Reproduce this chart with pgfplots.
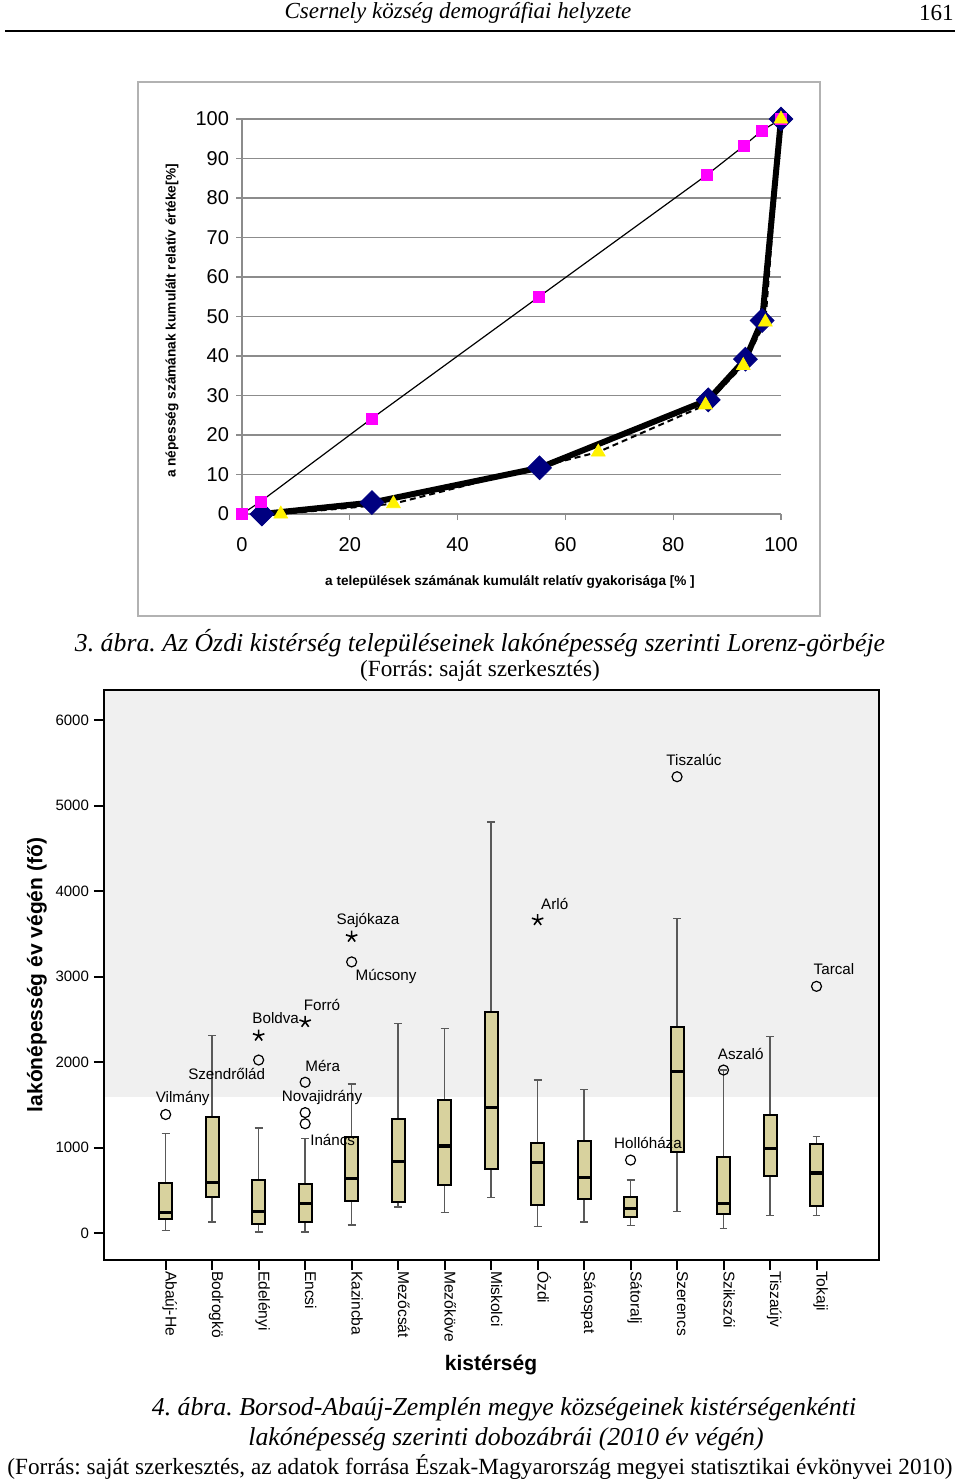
\documentclass[border=0pt]{standalone}
\usepackage{fontspec}
\setmainfont{Liberation Serif}
\newfontfamily\arial{Liberation Sans}
\usepackage{pgfplots}
\pgfplotsset{compat=1.18}
\usepgfplotslibrary{statistics}
\definecolor{boxfill}{HTML}{D8D29E}
\definecolor{bandgray}{HTML}{F0F0F0}
\definecolor{lorgrid}{HTML}{8C8C8C}
\definecolor{navy}{HTML}{000080}
\definecolor{pink}{HTML}{FF00FF}
\pgfplotsset{
  boxplot/every box/.style={fill=boxfill, draw=black, line width=1pt},
  boxplot/every median/.style={black, line width=1.6pt},
  boxplot/every whisker/.style={black!65, line width=0.7pt},
}
\frenchspacing
\begin{document}
\begin{tikzpicture}[x=1pt,y=1pt]
\path[use as bounding box] (0,0) rectangle (480,-740);
% ---- page header
\node[inner sep=0pt, font=\itshape\fontsize{11.5}{13}\selectfont] at (229,-6.5) {Csernely község demográfiai helyzete};
\node[inner sep=0pt, anchor=east, font=\fontsize{11.5}{13}\selectfont] at (477,-6.5) {161};
\draw[line width=1pt] (2.5,-15.5) -- (477.5,-15.5);
% ---- chart 1 frame
\draw[gray!60, line width=0.6pt] (69,-41) rectangle (410,-308);
\begin{axis}[at={(121pt,-257pt)}, anchor=south west, scale only axis,
  width=269.5pt, height=197.5pt,
  xmin=0, xmax=100, ymin=0, ymax=100, clip=false,
  axis x line*=bottom, axis y line*=left,
  axis line style={lorgrid, line width=0.6pt, -},
  xtick={0,20,...,100}, ytick={0,10,...,100},
  ymajorgrids, grid style={lorgrid, line width=0.6pt},
  tick style={lorgrid, line width=0.6pt}, tick align=outside, major tick length=3pt,
  /pgf/number format/assume math mode=true,
  xticklabel style={font=\arial\fontsize{10}{12}\selectfont, yshift=-5pt},
  yticklabel style={font=\arial\fontsize{10}{12}\selectfont},
]
\addplot[black, densely dashed, line width=1pt, mark=none] coordinates {
 (7.2,0) (28.1,2.6) (66.1,15.7) (86.0,27.6) (93.0,37.6) (97.1,48.6) (100,100)};
\addplot[black, line width=3pt, mark=square*, mark size=4.2pt,
  mark options={rotate=45, fill=navy, draw=navy, line width=0.4pt, solid}] coordinates {
 (3.7,0) (24.1,2.9) (55.2,11.7) (86.5,28.9) (93.4,39.2) (96.5,49.0) (100,100)};
\addplot[black, line width=0.6pt, mark=square*, mark size=2.75pt,
  mark options={fill=pink, draw=pink, line width=0.3pt}] coordinates {
 (0,0) (3.5,3.2) (24.0,24.1) (55.0,54.9) (86.2,85.8) (93.1,93.2) (96.4,97.0) (100,100)};
\addplot[only marks, mark=triangle*, mark size=4pt,
  mark options={fill=yellow, draw=yellow, line width=0.3pt}] coordinates {
 (7.2,0) (28.1,2.6) (66.1,15.7) (86.0,27.6) (93.0,37.6) (97.1,48.6) (100,100)};
\end{axis}
\node[rotate=90, inner sep=0pt, font=\arial\bfseries\fontsize{6.85}{8}\selectfont] at (86,-160.5) {a népesség számának kumulált relatív értéke[\%]};
\node[inner sep=0pt, font=\arial\bfseries\fontsize{6.8}{8}\selectfont] at (255,-291) {a települések számának kumulált relatív gyakorisága [\% ]};
% ---- caption 3
\node[inner sep=0pt, font=\itshape\fontsize{12.9}{15}\selectfont] at (240,-321.5) {3. ábra. Az Ózdi kistérség településeinek lakónépesség szerinti Lorenz-görbéje};
\node[inner sep=0pt, font=\fontsize{11.6}{14}\selectfont] at (240,-335.5) {(Forrás: saját szerkesztés)};
% ---- chart 2
\begin{axis}[at={(52pt,-630pt)}, anchor=south west, scale only axis,
  width=387.5pt, height=285pt,
  xmin=-0.327, xmax=16.344, ymin=-316, ymax=6351,
  axis on top,
  axis line style={line width=1pt},
  xtick={1,...,15}, ytick={0,1000,...,6000},
  xticklabels={Abaúj-He,Bodrogkö,Edelényi,Encsi,Kazincba,Mezőcsát,Mezőköve,Miskolci,Ózdi,Sárospat,Sátoralj,Szerencs,Szikszói,Tiszaújv,Tokaji},
  xtick pos=bottom, ytick pos=left,
  tick align=outside, major tick length=5pt,
  tick style={black, line width=1pt},
  scaled y ticks=false,
  /pgf/number format/1000 sep={},
  /pgf/number format/assume math mode=true,
  yticklabel style={font=\arial\fontsize{7.5}{9}\selectfont, xshift=1pt},
  xticklabel style={yshift=3.5pt, rotate=-90, anchor=base west, font=\arial\fontsize{7.8}{9}\selectfont, xshift=0.5pt},
  boxplot/draw direction=y,
  boxplot/box extend=0.28,
  boxplot/whisker extend=0.17,
]
\fill[bandgray] (axis cs:-0.327,1590) rectangle (axis cs:16.344,6351);
\addplot[black, boxplot prepared={lower whisker=30, lower quartile=165, median=238, upper quartile=585, upper whisker=1161, draw position=1}] coordinates {};
\addplot[black, boxplot prepared={lower whisker=130, lower quartile=420, median=594, upper quartile=1352, upper whisker=2309, draw position=2}] coordinates {};
\addplot[black, boxplot prepared={lower whisker=13, lower quartile=100, median=247, upper quartile=615, upper whisker=1226, draw position=3}] coordinates {};
\addplot[black, boxplot prepared={lower whisker=13, lower quartile=130, median=342, upper quartile=576, upper whisker=1105, draw position=4}] coordinates {};
\addplot[black, boxplot prepared={lower whisker=95, lower quartile=377, median=637, upper quartile=1118, upper whisker=1741, draw position=5}] coordinates {};
\addplot[black, boxplot prepared={lower whisker=303, lower quartile=364, median=840, upper quartile=1334, upper whisker=2448, draw position=6}] coordinates {};
\addplot[black, boxplot prepared={lower whisker=238, lower quartile=559, median=1018, upper quartile=1560, upper whisker=2391, draw position=7}] coordinates {};
\addplot[black, boxplot prepared={lower whisker=412, lower quartile=749, median=1464, upper quartile=2582, upper whisker=4809, draw position=8}] coordinates {};
\addplot[black, boxplot prepared={lower whisker=74, lower quartile=325, median=823, upper quartile=1053, upper whisker=1789, draw position=9}] coordinates {};
\addplot[black, boxplot prepared={lower whisker=130, lower quartile=403, median=645, upper quartile=1074, upper whisker=1681, draw position=10}] coordinates {};
\addplot[black, boxplot prepared={lower whisker=87, lower quartile=182, median=282, upper quartile=425, upper whisker=619, draw position=11}] coordinates {};
\addplot[black, boxplot prepared={lower whisker=251, lower quartile=944, median=1893, upper quartile=2413, upper whisker=3682, draw position=12}] coordinates {};
\addplot[black, boxplot prepared={lower whisker=56, lower quartile=217, median=347, upper quartile=888, upper whisker=1906, draw position=13}] coordinates {};
\addplot[black, boxplot prepared={lower whisker=204, lower quartile=663, median=988, upper quartile=1378, upper whisker=2296, draw position=14}] coordinates {};
\addplot[black, boxplot prepared={lower whisker=204, lower quartile=312, median=702, upper quartile=1040, upper whisker=1126, draw position=15}] coordinates {};
% outliers
\addplot[only marks, mark=o, mark size=2.5pt, black, line width=0.6pt] coordinates {
 (1,1386) (3,2023) (4,1763) (4,1408) (4,1278) (5,3171) (11,853) (12,5337) (13,1906) (15,2885)};
\addplot[only marks, mark=star, mark size=3pt, black, line width=0.8pt] coordinates {
 (3,2309) (4,2469) (5,3466) (9,3661)};
\end{axis}
\begin{scope}[every node/.style={inner sep=0pt, font=\arial\fontsize{7.6}{9}\selectfont}]
\node at (91.35,-549.25) {Vilmány};
\node at (113.35,-537.2) {Szendrőlád};
\node at (137.85,-509.25) {Boldva};
\node at (161,-502.5) {Forró};
\node at (161.35,-533) {Méra};
\node at (161,-548.7) {Novajidrány};
\node at (166.35,-569.8) {Ináncs};
\node at (184,-460) {Sajókaza};
\node at (193,-488) {Múcsony};
\node at (347,-379.8) {Tiszalúc};
\node at (277.35,-451.85) {Arló};
\node at (417,-484.5) {Tarcal};
\node at (370.35,-526.85) {Aszaló};
\node at (324,-571.3) {Hollóháza};
\end{scope}
\node[rotate=90, inner sep=0pt, font=\arial\bfseries\fontsize{10.5}{12}\selectfont] at (18.5,-487.5) {lakónépesség év végén (fő)};
\node[inner sep=0pt, font=\arial\bfseries\fontsize{10.5}{12}\selectfont] at (245.5,-682.5) {kistérség};
% ---- caption 4
\node[inner sep=0pt, font=\itshape\fontsize{12.9}{15}\selectfont] at (252,-704.5) {4. ábra. Borsod-Abaúj-Zemplén megye községeinek kistérségenkénti};
\node[inner sep=0pt, font=\itshape\fontsize{12.9}{15}\selectfont] at (253,-719.5) {lakónépesség szerinti dobozábrái (2010 év végén)};
\node[inner sep=0pt, font=\fontsize{11.6}{14}\selectfont] at (240,-733.5) {(Forrás: saját szerkesztés, az adatok forrása Észak-Magyarország megyei statisztikai évkönyvei 2010)};
\end{tikzpicture}
\end{document}
